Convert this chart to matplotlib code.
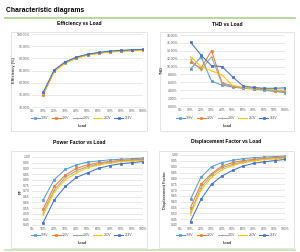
import matplotlib
matplotlib.use("Agg")
import matplotlib.pyplot as plt
from matplotlib.patches import Rectangle
from matplotlib.lines import Line2D
from matplotlib.ticker import FuncFormatter

plt.rcParams['font.family'] = ['Liberation Sans', 'DejaVu Sans']

load = [10, 20, 30, 40, 50, 60, 70, 80, 90, 100]
series_names = ["198V", "220V", "230V", "240V", "264V"]
colors = ["#5B9BD5", "#ED7D31", "#A5A5A5", "#FFC000", "#4472C4"]
markers = ["s", "s", "+", "_", "s"]

eff_198 = [75.3, 84.9, 88.3, 90.3, 91.5, 92.2, 92.8, 93.1, 93.4, 93.5]
eff_220 = [75.0, 84.7, 88.2, 90.2, 91.5, 92.2, 92.7, 93.0, 93.3, 93.4]
eff_230 = [75.2, 84.8, 88.2, 90.2, 91.4, 92.1, 92.7, 93.0, 93.2, 93.3]
eff_240 = [75.4, 84.6, 88.0, 90.0, 91.3, 92.0, 92.6, 92.9, 93.1, 93.2]
eff_264 = [76.0, 85.2, 88.6, 90.5, 91.7, 92.4, 93.0, 93.3, 93.5, 93.7]

thd_198 = [9.3, 12.5, 6.3, 5.3, 4.8, 4.5, 4.3, 4.0, 3.7, 3.4]
thd_220 = [11.1, 9.6, 14.0, 5.9, 5.1, 4.6, 4.4, 4.2, 3.9, 3.7]
thd_230 = [11.8, 9.1, 12.5, 5.6, 5.0, 4.6, 4.4, 4.2, 3.9, 3.7]
thd_240 = [12.5, 10.0, 8.9, 7.9, 5.2, 4.7, 4.5, 4.3, 4.1, 4.0]
thd_264 = [16.2, 12.9, 10.2, 10.0, 7.4, 5.1, 4.7, 4.5, 4.5, 4.6]

pf_198 = [0.62, 0.80, 0.89, 0.93, 0.955, 0.965, 0.975, 0.98, 0.985, 0.99]
pf_220 = [0.54, 0.74, 0.84, 0.90, 0.93, 0.95, 0.96, 0.97, 0.975, 0.98]
pf_230 = [0.51, 0.71, 0.82, 0.88, 0.915, 0.94, 0.955, 0.965, 0.97, 0.975]
pf_240 = [0.49, 0.69, 0.80, 0.86, 0.905, 0.93, 0.945, 0.96, 0.965, 0.97]
pf_264 = [0.42, 0.62, 0.74, 0.82, 0.86, 0.90, 0.925, 0.94, 0.95, 0.96]

df_198 = [0.62, 0.81, 0.90, 0.935, 0.955, 0.968, 0.977, 0.982, 0.987, 0.99]
df_220 = [0.55, 0.75, 0.84, 0.905, 0.935, 0.952, 0.963, 0.972, 0.977, 0.982]
df_230 = [0.51, 0.72, 0.83, 0.89, 0.92, 0.942, 0.957, 0.967, 0.972, 0.977]
df_240 = [0.49, 0.70, 0.81, 0.875, 0.91, 0.933, 0.948, 0.96, 0.967, 0.972]
df_264 = [0.43, 0.62, 0.75, 0.82, 0.868, 0.905, 0.928, 0.942, 0.952, 0.962]

W, H = 300, 252
fig = plt.figure(figsize=(3.0, 2.52), dpi=100)
fig.patch.set_facecolor("white")

def fx(px):
    return px / W

def fy(py):
    return 1 - py / H

# header
fig.text(fx(6), fy(10), "Characteristic diagrams", fontsize=4.9, fontweight="bold",
         va="center", ha="left")
green = "#A9D18E"
fig.add_artist(Line2D([fx(5), fx(295)], [fy(18), fy(18)], color=green, lw=1.2))
fig.add_artist(Line2D([fx(5), fx(295)], [fy(250), fy(250)], color="#C5E0B4", lw=1.2))

def panel(box, ax_px, title, title_y, ylabel, ylabel_x, data, ylim, ystep, fmt):
    bx0, by0, bx1, by1 = box
    fig.add_artist(Rectangle((fx(bx0), fy(by1)), fx(bx1 - bx0), (by1 - by0) / H,
                             fill=False, ec="#D9D9D9", lw=0.5))
    x0, y0, x1, y1 = ax_px
    ax = fig.add_axes([fx(x0), fy(y1), fx(x1 - x0), (y1 - y0) / H])
    for vals, name, c, m in zip(data, series_names, colors, markers):
        ax.plot(load, vals, color=c, lw=0.75, marker=m, markersize=1.7,
                markeredgewidth=0.5, label=name)
    ax.set_xlim(0, 100)
    ax.set_ylim(*ylim)
    ax.set_xticks(range(0, 101, 10))
    ax.xaxis.set_major_formatter(FuncFormatter(lambda v, p: "%d%%" % v))
    n = int(round((ylim[1] - ylim[0]) / ystep))
    ax.set_yticks([ylim[0] + i * ystep for i in range(n + 1)])
    ax.yaxis.set_major_formatter(FuncFormatter(fmt))
    ax.tick_params(labelsize=2.4, length=0, pad=1.5, colors="#595959")
    ax.grid(axis="y", color="#D9D9D9", lw=0.4)
    ax.set_axisbelow(True)
    for s in ["top", "right", "left"]:
        ax.spines[s].set_visible(False)
    ax.spines["bottom"].set_color("#D9D9D9")
    ax.spines["bottom"].set_linewidth(0.4)
    cx = (bx0 + bx1) / 2
    fig.text(fx(cx), fy(title_y), title, fontsize=3.6, fontweight="bold",
             ha="center", va="center")
    fig.text(fx(ylabel_x), fy((y0 + y1) / 2), ylabel, fontsize=2.8, fontweight="bold",
             rotation=90, ha="center", va="center", color="#404040")
    fig.text(fx((x0 + x1) / 2 - 5), fy(by1 - 5), "Load", fontsize=2.8, fontweight="bold",
             ha="center", va="center", color="#404040")
    leg = fig.legend(*ax.get_legend_handles_labels(), loc="center",
                     bbox_to_anchor=(fx((x0 + x1) / 2 - 6), fy(by1 - 13)),
                     ncol=5, fontsize=2.3, frameon=False, handlelength=2.8,
                     columnspacing=1.0, handletextpad=0.4, borderpad=0)
    for t in leg.get_texts():
        t.set_color("#595959")
    return ax

pct2 = lambda v, p: "%.2f%%" % v
dec2 = lambda v, p: "%.2f" % v

panel((11, 32, 147, 131), (32, 34, 143, 107), "Efficiency vs Load", 24,
      "Efficiency (%)", 14, [eff_198, eff_220, eff_230, eff_240, eff_264],
      (70, 100), 5, pct2)
panel((160, 32, 294, 131), (180, 35, 285, 106), "THD vs Load", 24,
      "THD", 162, [thd_198, thd_220, thd_230, thd_240, thd_264],
      (0, 18), 2, pct2)
panel((11, 151, 147, 248), (32, 157, 143, 225), "Power Factor vs Load", 142,
      "PF", 21, [pf_198, pf_220, pf_230, pf_240, pf_264],
      (0.40, 1.00), 0.05, dec2)
panel((159, 151, 294, 248), (180, 155, 285, 225), "Displacement Factor vs Load", 142,
      "Displacement Factor", 165, [df_198, df_220, df_230, df_240, df_264],
      (0.40, 1.00), 0.05, dec2)

fig.savefig("out.png", dpi=100, facecolor="white")
